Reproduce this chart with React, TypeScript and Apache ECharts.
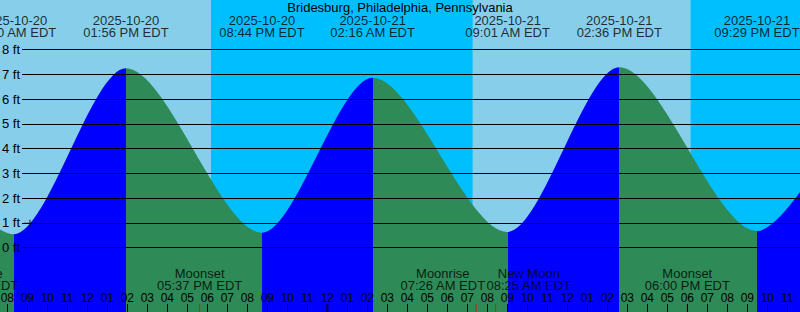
import { useEffect, useRef } from "react";
import * as echarts from "echarts";

// ---------- data ----------
const TITLE = "Bridesburg, Philadelphia, Pennsylvania";

// tide extremes (local time, EDT) and heights in ft
const tideTimes = [
  "2025-10-20 01:40",
  "2025-10-20 08:20",
  "2025-10-20 13:56",
  "2025-10-20 20:44",
  "2025-10-21 02:16",
  "2025-10-21 09:01",
  "2025-10-21 14:36",
  "2025-10-21 21:29",
  "2025-10-22 03:05",
];
const tideHeights = [6.9, 0.54, 7.24, 0.6, 6.86, 0.63, 7.28, 0.67, 6.95];

// moon events
const moonTimes = [
  "2025-10-20 06:26",
  "2025-10-20 17:37",
  "2025-10-21 07:26",
  "2025-10-21 08:25",
  "2025-10-21 18:00",
];
const moonEvents = ["Moonrise", "Moonset", "Moonrise", "New Moon", "Moonset"];

// night periods (sunset -> sunrise)
const nightStarts = ["2025-10-20 18:11", "2025-10-21 18:10"];
const nightEnds = ["2025-10-21 07:16", "2025-10-22 07:17"];

// current position marker
const nowTime = "2025-10-20 09:08";
const nowHeight = 0.98;

// axes
const hourMin = "2025-10-20 07:00";
const hourMax = "2025-10-22 00:00";
const heightMin = -2.6;
const heightMax = 10;
const gridHeightMin = 0;
const gridHeightMax = 8;

// ---------- helpers ----------
const BASE_DAY = Date.UTC(2025, 9, 20);
const pad = (n: number) => (n < 10 ? "0" + n : "" + n);
function toHours(s: string): number {
  const [d, tm] = s.split(" ");
  const [Y, M, D] = d.split("-").map(Number);
  const [h, m] = tm.split(":").map(Number);
  return (Date.UTC(Y, M - 1, D) - BASE_DAY) / 3600000 + h + m / 60;
}
function fmtTime(s: string): string {
  const tm = s.split(" ")[1];
  const [h, m] = tm.split(":").map(Number);
  const ap = h < 12 ? "AM" : "PM";
  const h12 = h % 12 || 12;
  return `${pad(h12)}:${pad(m)} ${ap} EDT`;
}

const FONT = '"Liberation Sans", Arial, Helvetica, sans-serif';
const RISING = "#0000ff";
const FALLING = "#2e8b57";
const DAY = "#87ceeb";
const NIGHT = "#00bfff";

function buildOption() {
  const xMin = toHours(hourMin);
  const xMax = toHours(hourMax);
  const gridLeft = -12.7;
  const gridWidth = 820;
  const pxPerHour = gridWidth / (xMax - xMin);

  const tT = tideTimes.map(toHours);
  const tideData = tT.map((t, i) => [t, tideHeights[i]]);
  const pieces: any[] = [];
  for (let i = 0; i < tT.length - 1; i++) {
    const p: any = {
      gte: tT[i],
      color: tideHeights[i + 1] > tideHeights[i] ? RISING : FALLING,
    };
    if (i === tT.length - 2) p.lte = tT[i + 1];
    else p.lt = tT[i + 1];
    pieces.push(p);
  }

  const moonT = moonTimes.map(toHours);
  const LABEL_W = 86;
  const offsets = moonT.map(() => 0);
  for (let i = 0; i < moonT.length - 1; i++) {
    const gap = (moonT[i + 1] - moonT[i]) * pxPerHour + offsets[i + 1] - offsets[i];
    if (gap < LABEL_W) {
      const push = (LABEL_W - gap) / 2;
      offsets[i] -= push;
      offsets[i + 1] += push;
    }
  }

  const midnights: number[][] = [];
  for (let t = Math.ceil(xMin / 24) * 24; t <= xMax; t += 24) midnights.push([t, heightMin]);

  const nightAreas = nightStarts.map((s, i) => [
    { xAxis: toHours(s) },
    { xAxis: toHours(nightEnds[i]) },
  ]);

  return {
    animation: false,
    backgroundColor: DAY,
    textStyle: { fontFamily: FONT },
    title: {
      text: TITLE,
      left: "center",
      top: 1,
      padding: 0,
      textStyle: { fontSize: 13, fontWeight: "normal", color: "#000", fontFamily: FONT, lineHeight: 13 },
    },
    grid: [
      { left: gridLeft, top: 0, width: gridWidth, height: 312, containLabel: false, outerBoundsMode: "none" },
      { left: 22, right: 0, top: 49.5, height: 198, containLabel: false, outerBoundsMode: "none" },
    ],
    xAxis: [
      {
        type: "value",
        gridIndex: 0,
        position: "bottom",
        min: xMin,
        max: xMax,
        interval: 1,
        z: 5,
        axisLine: { show: false, onZero: false },
        splitLine: { show: false },
        axisTick: { show: true, inside: true, length: 8, lineStyle: { color: "#000", width: 1 } },
        axisLabel: {
          show: true,
          inside: true,
          margin: 8,
          fontSize: 12,
          color: "#000",
          fontFamily: FONT,
          formatter: (v: number) => {
            const h = Math.round(((v % 12) + 12) % 12) || 12;
            return pad(h);
          },
        },
      },
      { type: "value", gridIndex: 1, min: xMin, max: xMax, show: false, axisLine: { onZero: false } },
    ],
    yAxis: [
      { type: "value", gridIndex: 0, min: heightMin, max: heightMax, show: false },
      {
        type: "value",
        gridIndex: 1,
        min: gridHeightMin,
        max: gridHeightMax,
        interval: 1,
        z: 5,
        axisLine: { show: false },
        axisTick: { show: false },
        splitLine: { show: true, lineStyle: { color: "#000", width: 1 } },
        axisLabel: {
          show: true,
          margin: 2,
          fontSize: 13,
          color: "#000",
          fontFamily: FONT,
          formatter: "{value} ft",
        },
      },
    ],
    visualMap: {
      type: "piecewise",
      show: false,
      dimension: 0,
      seriesIndex: 1,
      pieces,
    },
    series: [
      {
        type: "line",
        xAxisIndex: 0,
        yAxisIndex: 0,
        z: 1,
        silent: true,
        data: [],
        markArea: {
          silent: true,
          itemStyle: { color: NIGHT, opacity: 1 },
          data: nightAreas,
        },
      },
      {
        type: "line",
        xAxisIndex: 0,
        yAxisIndex: 0,
        z: 2,
        silent: true,
        data: tideData,
        smooth: 0.3,
        smoothMonotone: "x",
        showSymbol: false,
        symbol: "none",
        lineStyle: { width: 0, opacity: 0 },
        areaStyle: { opacity: 1, origin: "start" },
      },
      {
        type: "scatter",
        xAxisIndex: 0,
        yAxisIndex: 0,
        z: 4,
        clip: false,
        silent: true,
        symbol: "rect",
        symbolSize: [1, 16],
        itemStyle: { color: "#ff0000" },
        data: moonT.map((t) => [t, heightMin]),
      },
      {
        type: "scatter",
        xAxisIndex: 0,
        yAxisIndex: 0,
        z: 4,
        clip: false,
        silent: true,
        symbol: "rect",
        symbolSize: [2, 16],
        itemStyle: { color: "#000" },
        data: midnights,
      },
      {
        type: "scatter",
        xAxisIndex: 0,
        yAxisIndex: 0,
        z: 5,
        clip: false,
        silent: true,
        symbolSize: 0,
        itemStyle: { color: "transparent" },
        data: tT.map((t, i) => ({
          value: [t, heightMax],
          label: {
            show: true,
            position: "bottom",
            distance: 14,
            fontSize: 13,
            lineHeight: 12,
            color: "#000",
            fontFamily: FONT,
            align: "center",
            formatter: tideTimes[i].split(" ")[0] + "\n" + fmtTime(tideTimes[i]),
          },
        })),
      },
      {
        type: "scatter",
        xAxisIndex: 0,
        yAxisIndex: 0,
        z: 5,
        clip: false,
        silent: true,
        symbolSize: 0,
        itemStyle: { color: "transparent" },
        data: moonT.map((t, i) => ({
          value: [t, heightMin],
          label: {
            show: true,
            position: "top",
            distance: 21,
            offset: [offsets[i], 0],
            fontSize: 13,
            lineHeight: 12,
            color: "#000",
            fontFamily: FONT,
            align: "center",
            formatter: moonEvents[i] + "\n" + fmtTime(moonTimes[i]),
          },
        })),
      },
      {
        type: "scatter",
        xAxisIndex: 0,
        yAxisIndex: 0,
        z: 6,
        clip: false,
        silent: true,
        symbol: "path://M0,3H5V0H6V3H11V4H6V7H5V4H0Z",
        symbolSize: [12, 7],
        itemStyle: { color: "#000" },
        data: [[toHours(nowTime), nowHeight]],
      },
    ],
  };
}

export default function App() {
  const ref = useRef<HTMLDivElement>(null);
  useEffect(() => {
    if (!ref.current) return;
    const chart = echarts.init(ref.current, null, { renderer: "svg" });
    chart.setOption(buildOption() as any);
    return () => chart.dispose();
  }, []);
  return (
    <div
      ref={ref}
      style={{ position: "fixed", left: 0, top: 0, width: 800, height: 312 }}
    />
  );
}
